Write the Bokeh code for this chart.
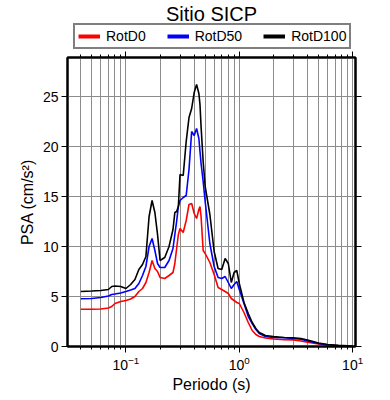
from bokeh.plotting import figure
from bokeh.layouts import column
from bokeh.models import (LinearAxis, LogAxis, FixedTicker, Legend, LegendItem,
                          Label, Range1d, LogTickFormatter, BasicTickFormatter)
from bokeh.embed import file_html
from bokeh.resources import INLINE

# ---------------- data ----------------
periods = [0.04, 0.05, 0.06, 0.07, 0.075, 0.08, 0.09, 0.10, 0.11, 0.12, 0.13, 0.14,
           0.15, 0.16, 0.17, 0.18, 0.19, 0.20, 0.22, 0.24, 0.26, 0.27, 0.28, 0.29,
           0.30, 0.32, 0.34, 0.36, 0.38, 0.40, 0.42, 0.44, 0.45, 0.46, 0.48, 0.50,
           0.55, 0.60, 0.65, 0.70, 0.75, 0.80, 0.85, 0.90, 0.95, 1.0, 1.1, 1.2,
           1.3, 1.4, 1.5, 1.7, 2.0, 2.5, 3.0, 3.5, 4.0, 5.0, 6.0, 7.5, 10.0]

rotd0 = [3.73, 3.73, 3.75, 3.85, 4.0, 4.3, 4.5, 4.6, 4.75, 5.0, 5.5, 5.8,
         6.4, 7.4, 8.6, 7.8, 7.5, 6.9, 6.8, 7.1, 7.4, 8.3, 9.8, 11.2,
         11.8, 11.4, 12.6, 14.2, 14.3, 13.3, 12.8, 13.7, 14.0, 13.0, 9.6, 9.3,
         8.4, 7.2, 5.9, 5.7, 5.5, 5.3, 4.8, 4.6, 4.4, 4.3, 3.4, 2.4,
         1.6, 1.2, 1.0, 0.85, 0.75, 0.67, 0.66, 0.55, 0.42, 0.25, 0.12, 0.05, 0.0]

rotd50 = [4.77, 4.8, 4.9, 5.05, 5.2, 5.25, 5.35, 5.5, 5.65, 5.8, 6.3, 7.1,
          8.0, 10.0, 10.8, 9.6, 8.3, 7.9, 7.9, 8.6, 9.8, 11.2, 12.5, 14.0,
          14.6, 14.9, 15.1, 17.7, 21.5, 21.1, 21.8, 20.8, 19.5, 18.3, 16.5, 14.5,
          10.3, 8.0, 6.9, 6.8, 7.0, 6.4, 5.8, 6.2, 6.5, 5.7, 4.3, 3.0,
          2.3, 1.7, 1.3, 1.0, 0.9, 0.87, 0.8, 0.72, 0.55, 0.3, 0.18, 0.08, 0.03]

rotd100 = [5.5, 5.55, 5.6, 5.7, 6.0, 6.05, 6.0, 5.8, 6.2, 6.7, 7.7, 8.2,
           9.0, 13.0, 14.6, 13.4, 11.2, 8.6, 8.9, 10.0, 11.7, 13.4, 13.5, 14.0,
           17.2, 17.1, 20.5, 22.9, 23.8, 25.4, 26.2, 25.3, 24.2, 22.0, 18.5, 16.0,
           13.2, 9.5, 7.8, 7.7, 8.8, 8.3, 6.4, 7.4, 7.6, 6.3, 4.4, 3.3,
           2.4, 1.8, 1.4, 1.1, 1.0, 0.9, 0.88, 0.8, 0.65, 0.35, 0.2, 0.12, 0.05]

series_names = ["RotD0", "RotD50", "RotD100"]
series_values = [rotd0, rotd50, rotd100]
series_colors = ["#ff0000", "#0000ff", "#000000"]

title_text = "Sitio SICP"
x_label = "Periodo (s)"
y_label = "PSA (cm/s\u00b2)"
y_ticks = [0, 5, 10, 15, 20, 25]
x_major_ticks = [0.1, 1, 10]
x_minor_ticks = [0.03, 0.04, 0.05, 0.06, 0.07, 0.08, 0.09,
                 0.2, 0.3, 0.4, 0.5, 0.6, 0.7, 0.8, 0.9,
                 2, 3, 4, 5, 6, 7, 8, 9]

FONT = "Liberation Sans"
W = 390
HEAD_H = 49
MAIN_H = 351

# ---------------- header (title + legend) ----------------
# (its frame gets aligned by the column with the main plot's frame, x = 67..355)
head = figure(width=W, height=HEAD_H, x_axis_type=None, y_axis_type=None,
              x_range=Range1d(0, 1), y_range=Range1d(0, 1), title=None,
              output_backend="svg", toolbar_location=None,
              min_border_left=0, min_border_right=0,
              min_border_top=0, min_border_bottom=0)
head.outline_line_color = None
head.background_fill_color = "white"
head.border_fill_color = "white"

items = []
for name, col in zip(series_names, series_colors):
    r = head.line([-5.0, -4.0], [-5.0, -4.0], line_color=col, line_width=4)
    items.append(LegendItem(label=name, renderers=[r]))
legend = Legend(items=items, orientation="horizontal", location=(6, 0),
                padding=3, spacing=21, label_standoff=6,
                glyph_width=22, glyph_height=16, label_height=16,
                border_line_color="black", border_line_width=2,
                background_fill_color="white", background_fill_alpha=1,
                label_text_font=FONT, label_text_font_size="14px",
                label_text_color="black", margin=0)
head.add_layout(legend, "center")

title = Label(x=144, y=HEAD_H - 13.5, x_units="screen", y_units="screen",
              text=title_text, text_align="center", text_baseline="middle",
              text_font=FONT, text_font_size="20px", text_color="black")
head.add_layout(title)

# ---------------- main plot ----------------
p = figure(width=W, height=MAIN_H, x_axis_type="log", title=None,
           x_range=Range1d(0.0305, 10.6), y_range=Range1d(0, 28.9),
           output_backend="svg", toolbar_location=None,
           min_border_left=67, min_border_right=35,
           min_border_top=8, min_border_bottom=54)
p.outline_line_color = "black"
p.outline_line_width = 2
p.background_fill_color = "white"
p.border_fill_color = "white"

xticker = FixedTicker(ticks=x_major_ticks, minor_ticks=x_minor_ticks)
yticker = FixedTicker(ticks=y_ticks)

GRID = "#8c8c8c"
p.xgrid.ticker = xticker
p.xgrid.grid_line_color = GRID
p.xgrid.grid_line_width = 1
p.xgrid.minor_grid_line_color = GRID
p.xgrid.minor_grid_line_width = 1
p.ygrid.ticker = yticker
p.ygrid.grid_line_color = GRID
p.ygrid.grid_line_width = 1


def style_axis(ax, labels=True):
    ax.axis_line_color = "black"
    ax.axis_line_width = 2
    ax.major_tick_line_color = "black"
    ax.major_tick_line_width = 1
    ax.major_tick_out = 6
    ax.major_tick_in = 0
    ax.minor_tick_out = 3
    ax.minor_tick_in = 0
    ax.major_label_text_font = FONT
    ax.major_label_text_font_size = "14px" if labels else "2px"
    ax.major_label_text_color = "black" if labels else None
    ax.axis_label_text_font = FONT
    ax.axis_label_text_font_size = "16px"
    ax.axis_label_text_font_style = "normal"
    ax.axis_label_text_color = "black"


xa = p.xaxis[0]
xa.ticker = xticker
xa.formatter = LogTickFormatter()
style_axis(xa)
xa.minor_tick_line_color = "black"
xa.major_label_standoff = 3
xa.axis_label = x_label
xa.axis_label_standoff = 3

ya = p.yaxis[0]
ya.ticker = yticker
style_axis(ya)
ya.minor_tick_line_color = None
ya.major_label_standoff = 3
ya.axis_label = y_label
ya.axis_label_standoff = 4

top = LogAxis(ticker=xticker, formatter=BasicTickFormatter())
style_axis(top, labels=False)
top.minor_tick_line_color = "black"
top.major_label_standoff = 0
p.add_layout(top, "above")

right = LinearAxis(ticker=yticker, formatter=BasicTickFormatter())
style_axis(right, labels=False)
right.minor_tick_line_color = None
right.major_label_standoff = 0
p.add_layout(right, "right")

for name, vals, col in zip(series_names, series_values, series_colors):
    p.line(periods, vals, line_color=col, line_width=1.6)

layout = column(head, p, spacing=0)
open("out.html", "w").write(file_html(layout, INLINE))
